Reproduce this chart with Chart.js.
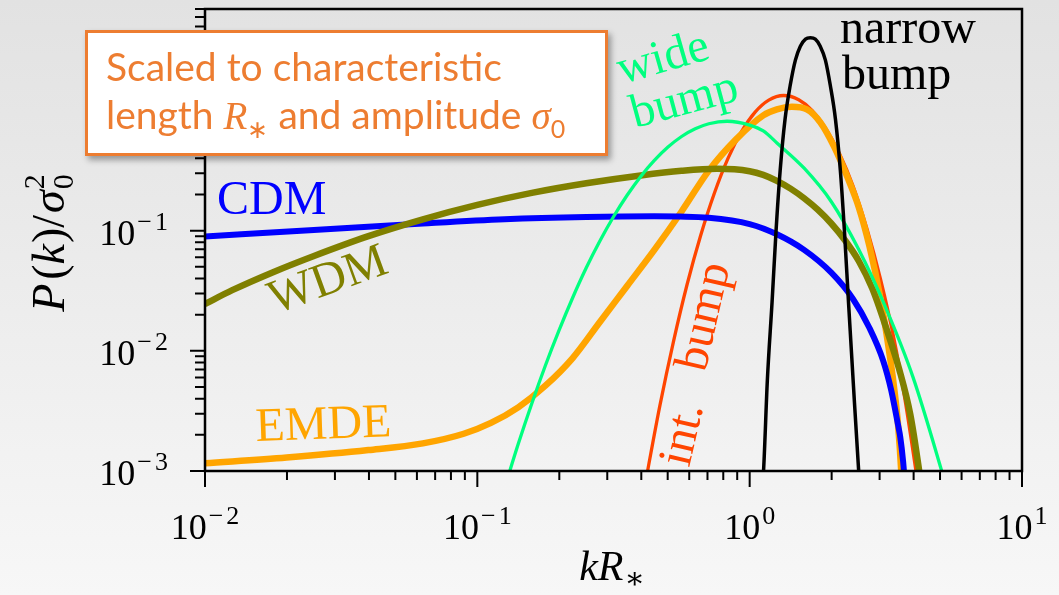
<!DOCTYPE html>
<html>
<head>
<meta charset="utf-8">
<title>Scaled power spectra</title>
<script src="https://cdn.jsdelivr.net/npm/chart.js@4.4.1/dist/chart.umd.min.js"></script>
<style>
    html, body { margin: 0; padding: 0; }
    body {
        width: 1059px; height: 595px; overflow: hidden; position: relative;
        background: linear-gradient(to bottom, #e2e2e2 0%, #f7f7f7 100%);
    }
    #chartWrap { position: absolute; left: 0; top: 0; width: 1059px; height: 595px; }
    .note {
        position: absolute; left: 85px; top: 30px; width: 523px; height: 126px;
        box-sizing: border-box; border: 3px solid #ED7D31; background: #fff;
        box-shadow: 3px 4px 6px rgba(0, 0, 0, 0.35);
        font-family: Lato, "Open Sans", sans-serif; font-size: 39px; line-height: 48px;
        color: #ED7D31; padding: 9px 0 0 18px; white-space: nowrap;
    }
    .note i { font-family: "Liberation Serif", "DejaVu Serif", serif; font-style: italic; }
    .note .sub { font-size: 25px; position: relative; top: 9px; line-height: 0; }
</style>
</head>
<body>
<div id="chartWrap"><canvas id="spectrumChart" width="1059" height="595"></canvas></div>
<div class="note">
    <div>Scaled to characteristic</div>
    <div>length <i>R</i><span class="sub">∗</span> and amplitude <i>σ</i><span class="sub">0</span></div>
</div>
<script>
// ---- data (x = kR*, y = P(k)/sigma0^2) ----
const cdmX = [0.01, 0.0251, 0.0631, 0.1259, 0.2512, 0.4467, 0.7079, 1.0, 1.259, 1.585, 1.995, 2.399, 2.754, 3.090, 3.311, 3.508, 3.573, 3.660, 3.715];
const cdmY = [0.0895, 0.1012, 0.1148, 0.1245, 0.130, 0.1318, 0.1279, 0.1135, 0.0933, 0.0692, 0.0447, 0.0269, 0.0155, 0.00832, 0.00468, 0.0024, 0.00191, 0.0012, 0.00079];

const wdmX = [0.01, 0.01259, 0.01778, 0.02512, 0.03981, 0.0631, 0.1, 0.1585, 0.2512, 0.3981, 0.5623, 0.7586, 1.0, 1.122, 1.259, 1.413, 1.585, 1.778, 1.995, 2.239, 2.512, 2.818, 3.162, 3.548, 3.890, 4.169, 4.365];
const wdmY = [0.02455, 0.03199, 0.04519, 0.06166, 0.09016, 0.1245, 0.1641, 0.2065, 0.2483, 0.2884, 0.3148, 0.3273, 0.3126, 0.2917, 0.2600, 0.2239, 0.1862, 0.1496, 0.1148, 0.0832, 0.05623, 0.03311, 0.01585, 0.00692, 0.00295, 0.001096, 0.0005];

const emdeX = [0.01, 0.01995, 0.03981, 0.0631, 0.08913, 0.1122, 0.1413, 0.1778, 0.2239, 0.2818, 0.3548, 0.4467, 0.5623, 0.7079, 0.8913, 1.122, 1.259, 1.429, 1.622, 1.820, 2.042, 2.291, 2.512, 2.754, 3.020, 3.236, 3.388, 3.508, 3.597, 3.648];
const emdeY = [0.001159, 0.001294, 0.001493, 0.001698, 0.002042, 0.002512, 0.003388, 0.005129, 0.00871, 0.01738, 0.03467, 0.06918, 0.1445, 0.3162, 0.5754, 0.912, 1.023, 1.074, 1.023, 0.7943, 0.5012, 0.2754, 0.1585, 0.0741, 0.02754, 0.01072, 0.005012, 0.002399, 0.001047, 0.0005];

const wideX = [0.1259, 0.1413, 0.1585, 0.1778, 0.1995, 0.2239, 0.2512, 0.2818, 0.3162, 0.3548, 0.3981, 0.4467, 0.5012, 0.5623, 0.631, 0.7079, 0.826, 1.0, 1.122, 1.259, 1.585, 1.995, 2.512, 3.162, 3.981, 5.012, 5.370];
const wideY = [0.000724, 0.001675, 0.003648, 0.00755, 0.01479, 0.02767, 0.04909, 0.08204, 0.1306, 0.1972, 0.2831, 0.3846, 0.4966, 0.6081, 0.7047, 0.7762, 0.8147, 0.7568, 0.6761, 0.5370, 0.3311, 0.1742, 0.06998, 0.02275, 0.006012, 0.001096, 0.000631];

const intX = [0.4074, 0.4266, 0.4677, 0.5248, 0.5888, 0.6607, 0.7413, 0.8318, 0.9333, 1.047, 1.175, 1.334, 1.514, 1.698, 1.905, 2.138, 2.399, 2.692, 3.020, 3.388, 3.715, 4.074, 4.266];
const intY = [0.000646, 0.001148, 0.003467, 0.01189, 0.03548, 0.0912, 0.2042, 0.3981, 0.6683, 0.9705, 1.222, 1.334, 1.230, 1.0, 0.7079, 0.4365, 0.2344, 0.1047, 0.03981, 0.01259, 0.003981, 0.001023, 0.0005];

const narrowX = [1.096, 1.125, 1.161, 1.208, 1.250, 1.294, 1.349, 1.409, 1.472, 1.535, 1.603, 1.671, 1.742, 1.816, 1.897, 1.977, 2.065, 2.153, 2.228, 2.307, 2.399, 2.512, 2.570];
const narrowY = [0.0005, 0.001023, 0.005623, 0.02512, 0.1, 0.3162, 0.8511, 1.622, 2.630, 3.428, 3.936, 4.036, 3.936, 3.428, 2.630, 1.622, 0.8511, 0.3162, 0.1, 0.02512, 0.005623, 0.001023, 0.0005];

// axis ranges and labelled decades
const xRange = [0.01, 10];
const yRange = [0.001, 7];
const xTickExps = [-2, -1, 0, 1];
const yTickExps = [-3, -2, -1];

const SERIF = '"Liberation Serif", "DejaVu Serif", serif';

function toPoints(xs, ys) {
    return xs.map((x, i) => ({ x: x, y: ys[i] }));
}

// lower order = drawn on top
const datasets = [
    { label: 'narrow bump', data: toPoints(narrowX, narrowY), borderColor: '#000000', borderWidth: 3.5, order: 0 },
    { label: 'wide bump', data: toPoints(wideX, wideY), borderColor: '#00ff7f', borderWidth: 3.3, order: 1 },
    { label: 'WDM', data: toPoints(wdmX, wdmY), borderColor: '#808000', borderWidth: 6.5, order: 2 },
    { label: 'CDM', data: toPoints(cdmX, cdmY), borderColor: '#0000ff', borderWidth: 6, order: 3 },
    { label: 'EMDE', data: toPoints(emdeX, emdeY), borderColor: '#ffa500', borderWidth: 6.5, order: 4 },
    { label: 'int. bump', data: toPoints(intX, intY), borderColor: '#ff4500', borderWidth: 3.3, order: 5 }
];
datasets.forEach(d => { d.fill = false; d.clip = 0; d.pointRadius = 0; });

// in-plot curve names
const curveLabels = [
    { text: 'CDM', color: '#0000ff', x: 217, y: 214, angle: 0 },
    { text: 'WDM', color: '#808000', x: 275, y: 314, angle: -20 },
    { text: 'EMDE', color: '#ffa500', x: 256, y: 441, angle: -2 },
    { text: 'wide', color: '#00ff7f', x: 622, y: 84, angle: -16 },
    { text: 'bump', color: '#00ff7f', x: 635, y: 128, angle: -15 },
    { text: 'narrow', color: '#000000', x: 840, y: 43, angle: 0 },
    { text: 'bump', color: '#000000', x: 842, y: 89, angle: 0 },
    { text: 'int.', color: '#ff4500', x: 689, y: 468, angle: -77 },
    { text: 'bump', color: '#ff4500', x: 705, y: 373, angle: -77 }
];

function logTicks(min, max) {
    const out = [];
    for (let e = Math.floor(Math.log10(min)); e <= Math.ceil(Math.log10(max)); e++) {
        for (let m = 1; m <= 9; m++) {
            const v = m * Math.pow(10, e);
            if (v >= min * 0.999 && v <= max * 1.001) out.push({ v: v, major: m === 1 });
        }
    }
    return out;
}

// "10" with a raised exponent, minus drawn a little apart like TeX
function drawPower(ctx, exp, x, y, align) {
    const baseFont = '36px ' + SERIF, supFont = '26px ' + SERIF;
    ctx.font = baseFont;
    const wb = ctx.measureText('10').width;
    ctx.font = supFont;
    const digits = String(Math.abs(exp));
    const wm = exp < 0 ? ctx.measureText('\u2212').width + 3 : 0;
    const wd = ctx.measureText(digits).width;
    const total = wb + 2 + wm + wd;
    const x0 = align === 'center' ? x - total / 2 : x - total;
    ctx.font = baseFont;
    ctx.fillText('10', x0, y);
    ctx.font = supFont;
    if (exp < 0) ctx.fillText('\u2212', x0 + wb + 2, y - 15);
    ctx.fillText(digits, x0 + wb + 2 + wm, y - 15);
}

// runs of differently styled text on one baseline
function runsWidth(ctx, runs) {
    let w = 0, lastStart = 0;
    runs.forEach(r => {
        ctx.font = r.font;
        const rw = ctx.measureText(r.t).width;
        if (r.stack) {
            w = Math.max(w, lastStart + rw);
        } else {
            lastStart = w;
            w += rw + (r.gap || 0);
        }
    });
    return w;
}
function drawRuns(ctx, runs, x, y) {
    let cx = x, last = x;
    runs.forEach(r => {
        ctx.font = r.font;
        if (r.stack) {
            ctx.fillText(r.t, last, y + (r.dy || 0));
        } else {
            last = cx;
            ctx.fillText(r.t, cx, y + (r.dy || 0));
            cx += ctx.measureText(r.t).width + (r.gap || 0);
        }
    });
}

const axesPlugin = {
    id: 'axesPlugin',
    afterDatasetsDraw(chart) {
        const ctx = chart.ctx;
        const area = chart.chartArea;
        const xs = chart.scales.x, ys = chart.scales.y;
        ctx.save();
        ctx.strokeStyle = '#000';
        ctx.fillStyle = '#000';

        // frame
        ctx.lineWidth = 2.5;
        ctx.strokeRect(area.left, area.top, area.right - area.left, area.bottom - area.top);

        // tick marks outside the frame
        ctx.lineWidth = 2;
        ctx.beginPath();
        logTicks(xRange[0], xRange[1]).forEach(t => {
            const px = xs.getPixelForValue(t.v);
            ctx.moveTo(px, area.bottom);
            ctx.lineTo(px, area.bottom + (t.major ? 16 : 9));
        });
        logTicks(yRange[0], yRange[1]).forEach(t => {
            const py = ys.getPixelForValue(t.v);
            ctx.moveTo(area.left, py);
            ctx.lineTo(area.left - (t.major ? 15 : 10), py);
        });
        ctx.stroke();

        // tick labels
        ctx.textBaseline = 'alphabetic';
        ctx.textAlign = 'left';
        xTickExps.forEach(e => {
            drawPower(ctx, e, xs.getPixelForValue(Math.pow(10, e)), 539, 'center');
        });
        yTickExps.forEach(e => {
            drawPower(ctx, e, 168, ys.getPixelForValue(Math.pow(10, e)) + 14, 'right');
        });

        // x title: kR*
        const xRuns = [
            { t: 'k', font: 'italic 42px ' + SERIF },
            { t: 'R', font: 'italic 42px ' + SERIF, gap: 1 },
            { t: '\u2217', font: '30px ' + SERIF, dy: 8 }
        ];
        const xw = runsWidth(ctx, xRuns);
        drawRuns(ctx, xRuns, 612 - xw / 2, 580);

        // y title: P(k)/sigma0^2
        const yRuns = [
            { t: 'P', font: 'italic 46px ' + SERIF, gap: 4 },
            { t: '(', font: '46px ' + SERIF },
            { t: 'k', font: 'italic 46px ' + SERIF, gap: 1 },
            { t: ')', font: '46px ' + SERIF },
            { t: '/', font: '46px ' + SERIF, gap: 2 },
            { t: '\u03C3', font: 'italic 46px ' + SERIF, gap: 1 },
            { t: '0', font: '30px ' + SERIF, dy: 9 },
            { t: '2', font: '30px ' + SERIF, dy: -20, stack: true }
        ];
        const yw = runsWidth(ctx, yRuns);
        ctx.translate(64, 243);
        ctx.rotate(-Math.PI / 2);
        drawRuns(ctx, yRuns, -yw / 2, 0);
        ctx.restore();

        // curve names
        ctx.save();
        ctx.font = '48px ' + SERIF;
        ctx.textBaseline = 'alphabetic';
        curveLabels.forEach(l => {
            ctx.save();
            ctx.translate(l.x, l.y);
            ctx.rotate(l.angle * Math.PI / 180);
            ctx.fillStyle = l.color;
            ctx.fillText(l.text, 0, 0);
            ctx.restore();
        });
        ctx.restore();
    }
};

const chartCtx = document.getElementById('spectrumChart').getContext('2d');
const spectrumChart = new Chart(chartCtx, {
    type: 'line',
    data: { datasets: datasets },
    options: {
        responsive: false,
        animation: false,
        devicePixelRatio: 1,
        layout: { padding: { left: 205, right: 37, top: 9, bottom: 124 } },
        plugins: {
            legend: { display: false },
            tooltip: { enabled: false }
        },
        elements: {
            point: { radius: 0 },
            line: { cubicInterpolationMode: 'monotone', borderJoinStyle: 'round', borderCapStyle: 'butt' }
        },
        scales: {
            x: { type: 'logarithmic', min: xRange[0], max: xRange[1], display: false },
            y: { type: 'logarithmic', min: yRange[0], max: yRange[1], display: false }
        }
    },
    plugins: [axesPlugin]
});
</script>
</body>
</html>
